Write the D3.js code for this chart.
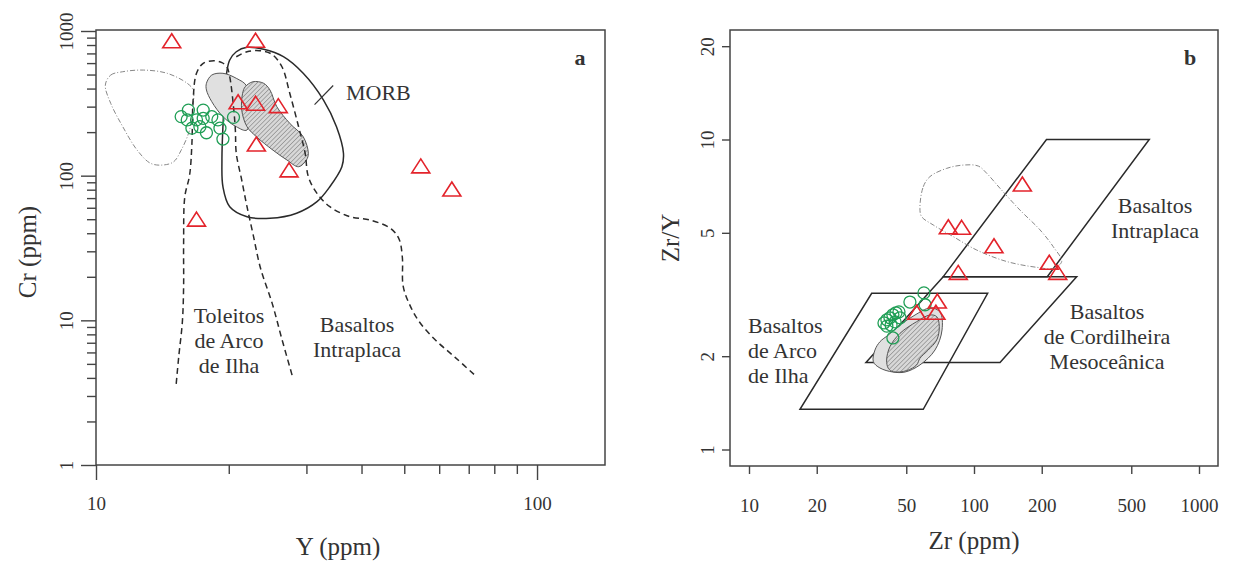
<!DOCTYPE html>
<html>
<head>
<meta charset="utf-8">
<script src="https://cdn.jsdelivr.net/npm/d3@7"></script>
<style>
  body { margin: 0; background: #fff; }
  svg { display: block; }
  text { font-family: "Liberation Serif", "Times New Roman", serif; fill: #333; }
  .tick line { stroke: #444; stroke-width: 1.4; }
</style>
</head>
<body>
<div id="chart"></div>
<script>
// ---- panel a : Cr vs Y ----
var yaTri = [14.85, 23.0, 21.0, 23.0, 25.9, 23.1, 27.4, 16.9, 54.5, 64.1];
var crTri = [843, 850, 319, 312, 300, 163, 108, 49.3, 115, 79.6];
var yaCirc = [15.6, 16.2, 16.1, 17.5, 17.5, 16.5, 17.2, 17.8, 18.3, 18.9, 19.1, 19.4, 20.5, 16.9];
var crCirc = [256, 284, 243, 284, 249, 213, 218, 198, 256, 243, 213, 179, 253, 243];

// field boundaries, [Y, Cr]
var iatLine = [[15.2,3.64],[15.4,5.58],[15.7,9.83],[15.8,17.3],[15.8,34.2],[15.9,71.6],[16.3,100.6],[16.5,167],[16.6,331],[16.9,510],[17.5,598],[18.5,623],[19.3,604],[19.8,566],[20.1,483],[20.5,300],[20.7,207],[20.8,142.8],[21.4,93.3],[22.0,61.0],[22.7,39.5],[23.6,23.0],[25.1,13.05],[26.4,7.40],[27.9,4.08]];
var wpbLine = [[20.8,664],[22.0,719],[23.5,731],[25.0,693],[26.4,566],[27.5,371],[28.8,218],[29.8,142.8],[30.3,98.4],[31.7,75.5],[33.9,61.0],[37.7,52.0],[41.8,49.4],[46.7,42.9],[48.7,36.2],[49.5,27.3],[49.7,17.3],[51.3,13.05],[54.0,9.83],[58.6,7.40],[65.1,5.57],[72.9,4.08]];
var morbLine = [[19.8,523],[20.1,630],[20.8,719],[22.0,771],[24.0,747],[26.6,664],[29.5,510],[32.8,333],[35.1,218],[36.4,142.8],[36.1,115.3],[33.9,83.9],[31.7,66.1],[28.5,55.0],[24.8,50.7],[22.0,52.0],[20.1,61.0],[19.4,83.9],[19.3,128.3],[19.4,218],[19.6,371]];
var greyA = [[17.8,435],[18.3,496],[19.4,510],[20.8,471],[22.0,412],[22.0,207],[20.8,218],[19.4,256],[18.3,325],[17.8,391]];
var hatchA = [[21.8,412],[22.7,446],[24.0,435],[24.8,391],[25.7,300],[27.5,230],[29.5,186],[30.3,142.8],[30.0,128.3],[28.8,115.3],[27.1,128.3],[25.2,150],[23.1,186],[22.0,218],[21.4,284],[21.5,371]];
var otherA = [[10.5,423],[10.8,496],[11.5,523],[12.8,537],[14.5,510],[16.1,435],[16.6,391],[16.6,300],[16.3,207],[15.6,150],[15.0,124.8],[14.2,118.5],[13.3,121.7],[12.4,150],[11.5,218],[10.8,316]];

var crTicks = [1, 10, 100, 1000];
var yTicks = [10, 100];

// ---- panel b : Zr/Y vs Zr ----
var zrTri = [164, 76.9, 88.1, 122.7, 216, 235.6, 85.1, 68.7, 55.6, 67.7];
var zryTri = [7.13, 5.19, 5.17, 4.51, 3.99, 3.70, 3.70, 2.99, 2.75, 2.75];
var zrCirc = [39.8, 41.0, 42.3, 43.6, 45.0, 46.4, 42.8, 44.6, 46.9, 51.9, 59.9, 60.6, 43.6, 41.0];
var zryCirc = [2.56, 2.62, 2.66, 2.72, 2.76, 2.78, 2.52, 2.58, 2.66, 2.99, 3.20, 2.93, 2.29, 2.50];

// fields, [Zr, Zr/Y]
var wpbBox = [[210,10],[601,10],[211.7,3.61],[73.0,3.61]];
var morbBox = [[73.0,3.61],[286,3.61],[130.5,1.908],[33.1,1.908]];
var iabBox = [[16.85,1.348],[59.5,1.348],[115,3.19],[35.1,3.19]];
var otherB = [[57.5,6.0],[59.5,7.04],[63.7,7.59],[75.6,8.07],[89.6,8.27],[104.5,8.21],[113.9,7.78],[130.5,6.96],[160.1,5.92],[196.5,5.11],[225,4.51],[245.3,4.04],[225,3.84],[190,3.87],[139.8,4.04],[102.8,4.40],[80.9,4.86],[65.9,5.30],[58.5,5.64]];
var greyB = [[35.7,1.919],[36.3,2.094],[38.2,2.227],[41.6,2.34],[46.9,2.52],[54.7,2.716],[63.7,2.86],[70.6,2.777],[72.1,2.43],[67.1,2.094],[57.5,1.874],[49.4,1.778],[43.6,1.778],[38.2,1.832]];
var hatchB = [[40.9,1.944],[42.3,2.146],[46.9,2.37],[55.6,2.584],[63.7,2.716],[68.3,2.682],[70.1,2.49],[68.3,2.256],[62.6,2.094],[57.5,1.969],[55.6,1.874],[50.2,1.796],[43.8,1.782],[41.6,1.828]];

var zrTicks = [10, 20, 50, 100, 200, 500, 1000];
var zryTicks = [1, 2, 5, 10, 20];

var svg = d3.select("#chart").append("svg")
  .attr("width", 1235)
  .attr("height", 561);

var defs = svg.append("defs");
var pat = defs.append("pattern")
  .attr("id", "hatch")
  .attr("patternUnits", "userSpaceOnUse")
  .attr("width", 3.2)
  .attr("height", 3.2)
  .attr("patternTransform", "rotate(45)");
pat.append("rect").attr("width", 3.2).attr("height", 3.2).attr("fill", "#d8d8d8");
pat.append("line").attr("x1", 0).attr("y1", 0).attr("x2", 0).attr("y2", 3.2)
  .attr("stroke", "#707070").attr("stroke-width", 1);

var triPath = "M0,-8L9,6L-9,6Z";

function drawMarks(g, x, y, tx, ty, cx, cy) {
  g.selectAll(".circ")
    .data(cx)
    .enter()
    .append("circle")
    .attr("class", "circ")
    .attr("cx", function(d) {return x(d);})
    .attr("cy", function(d, i) {return y(cy[i]);})
    .attr("r", 6)
    .attr("fill", "none")
    .attr("stroke", "#1f9e55")
    .attr("stroke-width", 1.3);
  g.selectAll(".tri")
    .data(tx)
    .enter()
    .append("path")
    .attr("class", "tri")
    .attr("d", triPath)
    .attr("transform", function(d, i) {return "translate(" + x(d) + "," + y(ty[i]) + ")";})
    .attr("fill", "none")
    .attr("stroke", "#e3232b")
    .attr("stroke-width", 1.6);
}

// ================= panel a =================
var xA = d3.scaleLog().domain([10, 142.6]).range([96, 605]);
var yA = d3.scaleLog().domain([1, 1000]).range([465, 31]);
var ga = svg.append("g");

var lineA = d3.line()
  .x(function(d) {return xA(d[0]);})
  .y(function(d) {return yA(d[1]);});

ga.append("path")
  .datum(otherA)
  .attr("d", lineA.curve(d3.curveCatmullRomClosed))
  .attr("fill", "none")
  .attr("stroke", "#888")
  .attr("stroke-width", 1)
  .attr("stroke-dasharray", "5,2,1,2");

ga.append("path")
  .datum(morbLine)
  .attr("d", lineA.curve(d3.curveCatmullRomClosed))
  .attr("fill", "none")
  .attr("stroke", "#2a2a2a")
  .attr("stroke-width", 1.5);

ga.append("path")
  .datum(greyA)
  .attr("d", lineA.curve(d3.curveCatmullRomClosed))
  .attr("fill", "#e0e0e0")
  .attr("stroke", "#555")
  .attr("stroke-width", 1);

ga.append("path")
  .datum(hatchA)
  .attr("d", lineA.curve(d3.curveCatmullRomClosed))
  .attr("fill", "url(#hatch)")
  .attr("stroke", "#555")
  .attr("stroke-width", 1);

[iatLine, wpbLine].forEach(function(l) {
  ga.append("path")
    .datum(l)
    .attr("d", lineA.curve(d3.curveCatmullRom))
    .attr("fill", "none")
    .attr("stroke", "#2a2a2a")
    .attr("stroke-width", 1.5)
    .attr("stroke-dasharray", "6,4");
});

// MORB pointer
ga.append("line")
  .attr("x1", xA(31.3)).attr("y1", yA(310))
  .attr("x2", xA(34.5)).attr("y2", yA(420))
  .attr("stroke", "#333").attr("stroke-width", 1.2);

drawMarks(ga, xA, yA, yaTri, crTri, yaCirc, crCirc);

ga.append("rect")
  .attr("x", 96).attr("y", 30)
  .attr("width", 509).attr("height", 435)
  .attr("fill", "none")
  .attr("stroke", "#444")
  .attr("stroke-width", 1.5);

var minorCr = [], minorY = [];
[1, 10, 100].forEach(function(b) {
  for (var k = 2; k < 10; k++) minorCr.push(b * k);
});
for (var k = 2; k < 10; k++) minorY.push(10 * k);

ga.append("g")
  .attr("transform", "translate(96,0)")
  .call(d3.axisLeft(yA).tickValues(minorCr).tickSize(9).tickFormat(""))
  .call(function(g) {g.select(".domain").remove();});
ga.append("g")
  .attr("transform", "translate(0,465)")
  .call(d3.axisBottom(xA).tickValues(minorY).tickSize(9).tickFormat(""))
  .call(function(g) {g.select(".domain").remove();});

var axA = ga.append("g")
  .attr("transform", "translate(96,0)")
  .call(d3.axisLeft(yA).tickValues(crTicks).tickSize(15).tickFormat(d3.format("d")));
axA.select(".domain").remove();
axA.selectAll("text")
  .attr("transform", "rotate(-90)")
  .attr("x", 0).attr("y", -23).attr("dy", 0)
  .style("text-anchor", "middle")
  .style("font-size", "19px");

var axAx = ga.append("g")
  .attr("transform", "translate(0,465)")
  .call(d3.axisBottom(xA).tickValues(yTicks).tickSize(15).tickPadding(17).tickFormat(d3.format("d")));
axAx.select(".domain").remove();
axAx.selectAll("text").style("font-size", "19px");

ga.append("text")
  .attr("x", 338).attr("y", 555)
  .style("text-anchor", "middle")
  .style("font-size", "25px")
  .text("Y (ppm)");
ga.append("text")
  .attr("transform", "translate(36,252) rotate(-90)")
  .style("text-anchor", "middle")
  .style("font-size", "25px")
  .text("Cr (ppm)");

ga.append("text")
  .attr("x", 580).attr("y", 65)
  .style("text-anchor", "middle")
  .style("font-size", "22px")
  .style("font-weight", "bold")
  .text("a");
ga.append("text")
  .attr("x", 346).attr("y", 100)
  .style("font-size", "22px")
  .text("MORB");

function multiLine(g, x, y0, lines, anchor) {
  lines.forEach(function(s, i) {
    g.append("text")
      .attr("x", x).attr("y", y0 + i * 25)
      .style("text-anchor", anchor)
      .style("font-size", "22px")
      .text(s);
  });
}
multiLine(ga, 229, 323, ["Toleitos", "de Arco", "de Ilha"], "middle");
multiLine(ga, 357, 332, ["Basaltos", "Intraplaca"], "middle");

// ================= panel b =================
var xB = d3.scaleLog().domain([10, 1000]).range([749, 1199]);
var yB = d3.scaleLog().domain([1, 10]).range([449.5, 139.5]);
var gb = svg.append("g");

var lineB = d3.line()
  .x(function(d) {return xB(d[0]);})
  .y(function(d) {return yB(d[1]);});

[wpbBox, morbBox, iabBox].forEach(function(b) {
  gb.append("path")
    .datum(b)
    .attr("d", lineB.curve(d3.curveLinearClosed))
    .attr("fill", "none")
    .attr("stroke", "#2a2a2a")
    .attr("stroke-width", 1.5);
});

gb.append("path")
  .datum(otherB)
  .attr("d", lineB.curve(d3.curveCatmullRomClosed))
  .attr("fill", "none")
  .attr("stroke", "#888")
  .attr("stroke-width", 1)
  .attr("stroke-dasharray", "5,2,1,2");

gb.append("path")
  .datum(greyB)
  .attr("d", lineB.curve(d3.curveCatmullRomClosed))
  .attr("fill", "#e0e0e0")
  .attr("stroke", "#555")
  .attr("stroke-width", 1);

gb.append("path")
  .datum(hatchB)
  .attr("d", lineB.curve(d3.curveCatmullRomClosed))
  .attr("fill", "url(#hatch)")
  .attr("stroke", "#555")
  .attr("stroke-width", 1);

drawMarks(gb, xB, yB, zrTri, zryTri, zrCirc, zryCirc);

gb.append("rect")
  .attr("x", 730).attr("y", 30)
  .attr("width", 488).attr("height", 436)
  .attr("fill", "none")
  .attr("stroke", "#444")
  .attr("stroke-width", 1.5);

var axB = gb.append("g")
  .attr("transform", "translate(730,0)")
  .call(d3.axisLeft(yB).tickValues(zryTicks).tickSize(8).tickFormat(d3.format("d")));
axB.select(".domain").remove();
axB.selectAll("text")
  .attr("transform", "rotate(-90)")
  .attr("x", 0).attr("y", -16).attr("dy", 0)
  .style("text-anchor", "middle")
  .style("font-size", "19px");

var axBx = gb.append("g")
  .attr("transform", "translate(0,466)")
  .call(d3.axisBottom(xB).tickValues(zrTicks).tickSize(8).tickPadding(25).tickFormat(d3.format("d")));
axBx.select(".domain").remove();
axBx.selectAll("text").style("font-size", "19px");

gb.append("text")
  .attr("x", 974).attr("y", 549)
  .style("text-anchor", "middle")
  .style("font-size", "25px")
  .text("Zr (ppm)");
gb.append("text")
  .attr("transform", "translate(679,238) rotate(-90)")
  .style("text-anchor", "middle")
  .style("font-size", "25px")
  .text("Zr/Y");

gb.append("text")
  .attr("x", 1190).attr("y", 65)
  .style("text-anchor", "middle")
  .style("font-size", "22px")
  .style("font-weight", "bold")
  .text("b");

multiLine(gb, 1155, 213, ["Basaltos", "Intraplaca"], "middle");
multiLine(gb, 1107, 319, ["Basaltos", "de Cordilheira", "Mesoceânica"], "middle");
multiLine(gb, 748, 333, ["Basaltos", "de Arco", "de Ilha"], "start");
</script>
</body>
</html>
